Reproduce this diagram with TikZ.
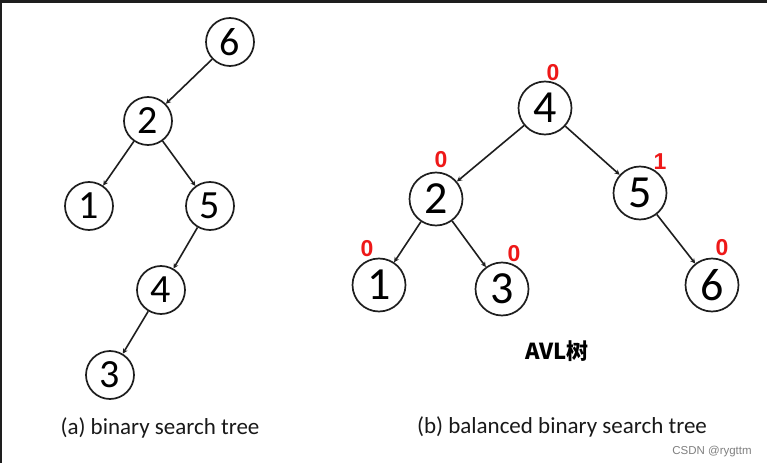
\documentclass[tikz,border=0pt]{standalone}
\usepackage{fontspec}
\setmainfont{Carlito}
\newfontfamily\libsans{Liberation Sans}
\newfontfamily\cjkfont{Noto Sans CJK SC}
\usetikzlibrary{arrows.meta}
\definecolor{bfred}{RGB}{238,24,24}
\definecolor{ink}{RGB}{30,30,30}
\begin{document}
\begin{tikzpicture}[x=1pt,y=-1pt,
  nda/.style={circle,draw=ink,line width=1.7pt,minimum size=48pt,inner sep=0pt,font=\fontsize{40}{40}\selectfont},
  ndb/.style={circle,draw=ink,line width=1.7pt,minimum size=53pt,inner sep=0pt,font=\fontsize{46}{46}\selectfont},
  edge/.style={line width=1.6pt,draw=ink,-{Stealth[length=5pt,width=5pt]}},
  bal/.style={text=bfred,font=\libsans\bfseries\fontsize{23}{23}\selectfont,inner sep=0pt},
  captext/.style={font=\fontsize{23}{26}\selectfont,inner sep=0pt,text=black!90}
]
\useasboundingbox (0,0) rectangle (767,470);
\fill[white] (0,0) rectangle (767,470);
\fill[ink] (0,0) rectangle (767,3);
\fill[ink] (0,0) rectangle (2,463);

% tree (a)
\node[nda] (a6) at (230,42) {6};
\node[nda] (a2) at (148,121) {2};
\node[nda] (a1) at (89,206) {1};
\node[nda] (a5) at (210,206) {5};
\node[nda] (a4) at (161,290) {4};
\node[nda] (a3) at (110,375) {3};
\draw[edge] (a6) -- (a2);
\draw[edge] (a2) -- (a1);
\draw[edge] (a2) -- (a5);
\draw[edge] (a5) -- (a4);
\draw[edge] (a4) -- (a3);
\node[captext] (capa) at (160,428) {(a) binary search tree};

% tree (b)
\node[ndb] (b4) at (545,108) {4};
\node[ndb] (b2) at (436,199) {2};
\node[ndb] (b5) at (640,193) {5};
\node[ndb] (b1) at (379,285) {1};
\node[ndb] (b3) at (502,289) {3};
\node[ndb] (b6) at (712,285) {6};
\draw[edge] (b4) -- (b2);
\draw[edge] (b4) -- (b5);
\draw[edge] (b2) -- (b1);
\draw[edge] (b2) -- (b3);
\draw[edge] (b5) -- (b6);
\node[bal] (h4) at (553,73) {0};
\node[bal] (h2) at (441,160) {0};
\node[bal] (h5) at (660,162) {1};
\node[bal] (h1) at (367,249) {0};
\node[bal] (h3) at (514,254) {0};
\node[bal] (h6) at (722,248) {0};
\node[font=\cjkfont\bfseries\fontsize{22}{22}\selectfont,inner sep=0pt] (avl) at (557,351) {AVL树};
\node[captext] (capb) at (562,427) {(b) balanced binary search tree};
\node[font=\libsans\fontsize{11.5}{12}\selectfont,text=black!50,inner sep=0pt] (wm) at (712,452) {CSDN @rygttm};
\end{tikzpicture}
\end{document}
